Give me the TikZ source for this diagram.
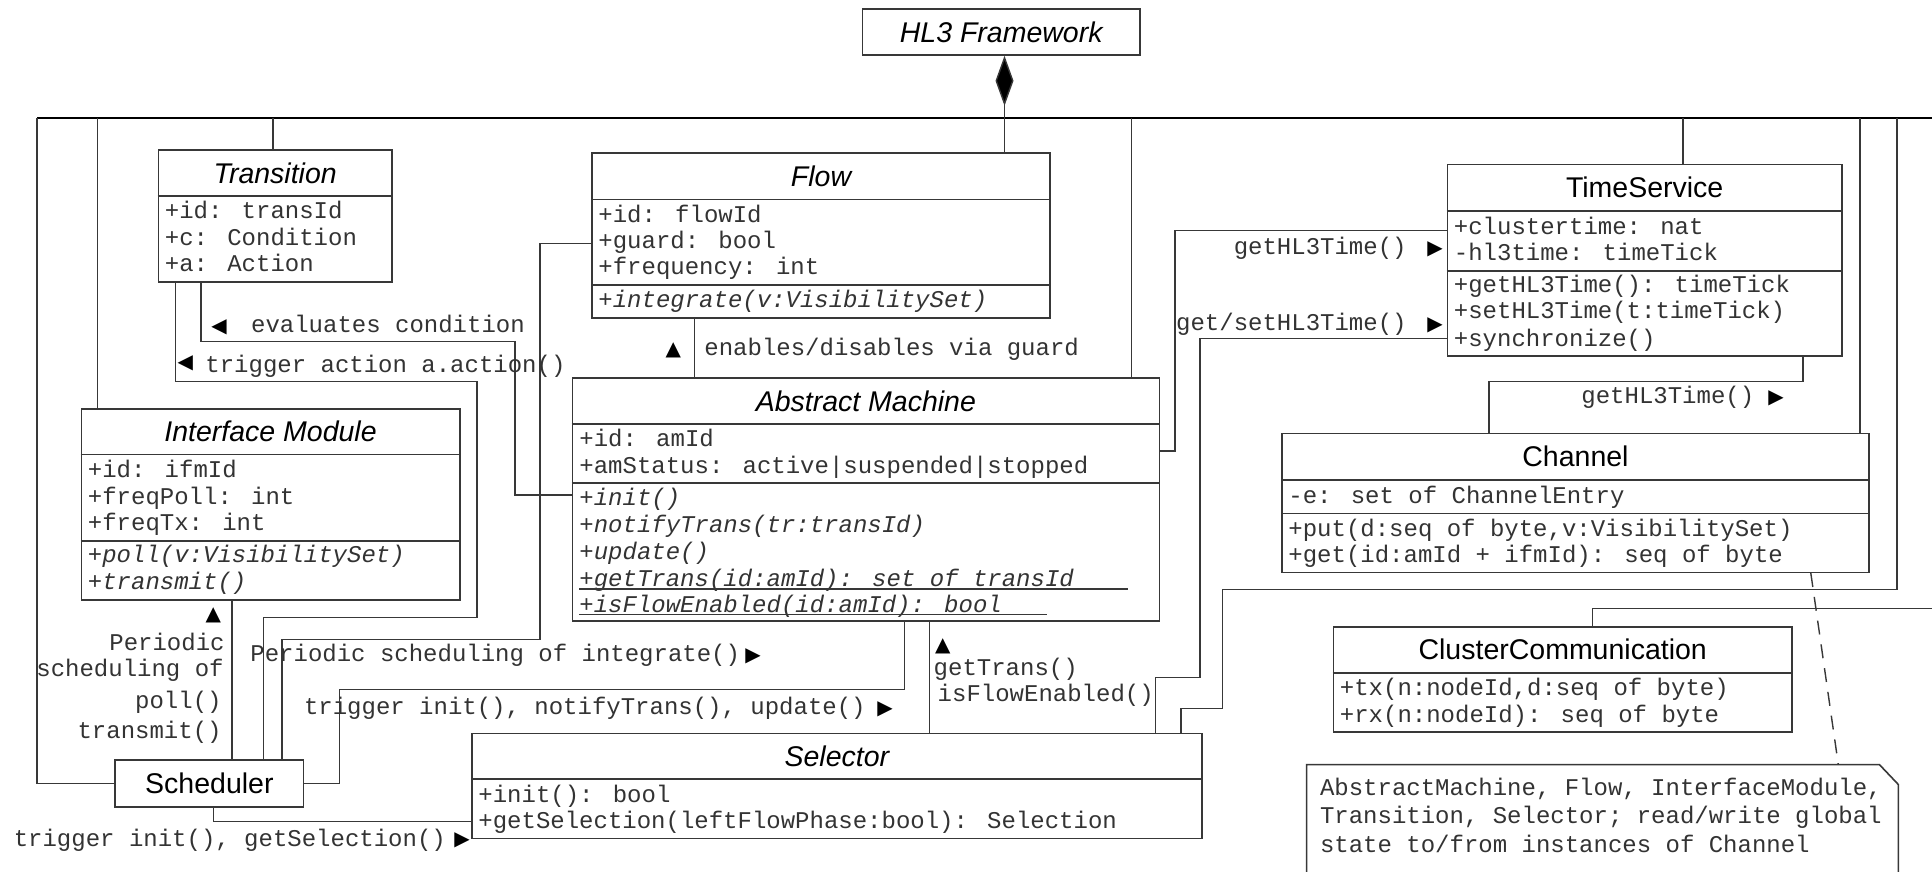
\documentclass[tikz,border=0pt]{standalone}
\usepackage{fontspec}
\setmainfont{Liberation Sans}
\newfontfamily\monof{Liberation Mono}
\newfontfamily\symf{DejaVu Sans}
\usetikzlibrary{arrows.meta,fit}
\definecolor{ink}{gray}{0.22}
\definecolor{txt}{gray}{0.2}
\begin{document}
\begin{tikzpicture}[x=0.5pt,y=-0.5pt,
  box/.style={draw=ink, line width=0.8pt, inner sep=0pt},
  sepl/.style={draw=ink, line width=0.8pt},
  wire/.style={draw=ink, line width=0.7pt},
  bus/.style={draw=black, line width=0.9pt},
  hdr/.style={font=\fontsize{14.25}{16}\selectfont, inner sep=0pt, text height=10.2pt, text depth=0pt},
  hdri/.style={hdr, font=\fontsize{14.25}{16}\selectfont\itshape},
  mt/.style={font=\monof\fontsize{12}{13}\selectfont, inner sep=0pt, anchor=west, text height=7.5pt, text depth=2pt, text=txt},
  mti/.style={mt, font=\monof\itshape\fontsize{12}{13}\selectfont},
  mk/.style={font=\symf\fontsize{10}{11}\selectfont, inner sep=0pt},
]
\useasboundingbox (0,0) rectangle (1932,872);
\fill[white] (0,0) rectangle (1932,872);

% ---------- class boxes ----------
\node[box, fit={(862.5,9) (1140,55)}] (hl3) {};
\node[hdri] (hl3-h) at (hl3) {HL3 Framework};

\node[box, fit={(158.5,149.7) (392,281.7)}] (trans) {};
\draw[sepl] (trans.west |- 0,196) -- (trans.east |- 0,196);
\node[hdri] (trans-h) at (trans.north |- 0,173) {Transition};
\node[mt] (trans-a1) at (164.5,213) {+id: transId};
\node[mt] (trans-a2) at (164.5,239.5) {+c: Condition};
\node[mt] (trans-a3) at (164.5,266) {+a: Action};

\node[box, fit={(592,153) (1050,317.7)}] (flow) {};
\draw[sepl] (flow.west |- 0,199.3) -- (flow.east |- 0,199.3);
\draw[sepl] (flow.west |- 0,285) -- (flow.east |- 0,285);
\node[hdri] (flow-h) at (flow.north |- 0,176.2) {Flow};
\node[mt] (flow-a1) at (598,216.7) {+id: flowId};
\node[mt] (flow-a2) at (598,242.7) {+guard: bool};
\node[mt] (flow-a3) at (598,269.3) {+frequency: int};
\node[mti] (flow-o1) at (598,301.7) {+integrate(v:VisibilitySet)};

\node[box, fit={(572.3,377.7) (1159.4,621)}] (am) {};
\draw[sepl] (am.west |- 0,424) -- (am.east |- 0,424);
\draw[sepl] (am.west |- 0,482.7) -- (am.east |- 0,482.7);
\node[hdri] (am-h) at (am.north |- 0,400.9) {Abstract Machine};
\node[mt] (am-a1) at (579,440.7) {+id: amId};
\node[mt] (am-a2) at (579,468.3) {+amStatus: active|suspended|stopped};
\node[mti] (am-o1) at (579,500) {+init()};
\node[mti] (am-o2) at (579,526.7) {+notifyTrans(tr:transId)};
\node[mti] (am-o3) at (579,554) {+update()};
\node[mti] (am-o4) at (579,581) {+getTrans(id:amId): set of transId};
\node[mti] (am-o5) at (579,606.7) {+isFlowEnabled(id:amId): bool};
\draw[sepl, line width=0.6pt] ([yshift=-1.2pt]am-o4.base west) -- ([yshift=-1.2pt]am-o4.base west -| 1128.3,0);
\draw[sepl, line width=0.6pt] ([yshift=-1.2pt]am-o5.base west) -- ([yshift=-1.2pt]am-o5.base west -| 1046.7,0);

\node[box, fit={(81.3,409) (459.8,600)}] (im) {};
\draw[sepl] (im.west |- 0,454.3) -- (im.east |- 0,454.3);
\draw[sepl] (im.west |- 0,540.7) -- (im.east |- 0,540.7);
\node[hdri] (im-h) at (im.north |- 0,431.7) {Interface Module};
\node[mt] (im-a1) at (87.5,472.3) {+id: ifmId};
\node[mt] (im-a2) at (87.5,499) {+freqPoll: int};
\node[mt] (im-a3) at (87.5,525) {+freqTx: int};
\node[mti] (im-o1) at (87.5,557.3) {+poll(v:VisibilitySet)};
\node[mti] (im-o2) at (87.5,584.3) {+transmit()};

\node[box, fit={(1447.5,164.3) (1841.8,356)}] (ts) {};
\draw[sepl] (ts.west |- 0,211) -- (ts.east |- 0,211);
\draw[sepl] (ts.west |- 0,270.7) -- (ts.east |- 0,270.7);
\node[hdr] (ts-h) at (ts.north |- 0,187.7) {TimeService};
\node[mt] (ts-a1) at (1453.5,228.7) {+clustertime: nat};
\node[mt] (ts-a2) at (1453.5,255) {-hl3time: timeTick};
\node[mt] (ts-o1) at (1453.5,287.3) {+getHL3Time(): timeTick};
\node[mt] (ts-o2) at (1453.5,313.3) {+setHL3Time(t:timeTick)};
\node[mt] (ts-o3) at (1453.5,340.7) {+synchronize()};

\node[box, fit={(1282.2,433.3) (1868.7,572.3)}] (chan) {};
\draw[sepl] (chan.west |- 0,480) -- (chan.east |- 0,480);
\draw[sepl] (chan.west |- 0,513.3) -- (chan.east |- 0,513.3);
\node[hdr] (chan-h) at (chan.north |- 0,456.7) {Channel};
\node[mt] (chan-a1) at (1288,497.7) {-e: set of ChannelEntry};
\node[mt] (chan-o1) at (1288,531) {+put(d:seq of byte,v:VisibilitySet)};
\node[mt] (chan-o2) at (1288,556.7) {+get(id:amId + ifmId): seq of byte};

\node[box, fit={(1333.5,626.7) (1791.9,731.7)}] (cc) {};
\draw[sepl] (cc.west |- 0,672.7) -- (cc.east |- 0,672.7);
\node[hdr] (cc-h) at (cc.north |- 0,649.7) {ClusterCommunication};
\node[mt] (cc-o1) at (1339.5,690) {+tx(n:nodeId,d:seq of byte)};
\node[mt] (cc-o2) at (1339.5,716.7) {+rx(n:nodeId): seq of byte};

\node[box, fit={(471.9,733.3) (1201.8,838.3)}] (sel) {};
\draw[sepl] (sel.west |- 0,779) -- (sel.east |- 0,779);
\node[hdri] (sel-h) at (sel.north |- 0,756.2) {Selector};
\node[mt] (sel-o1) at (478,796.7) {+init(): bool};
\node[mt] (sel-o2) at (478,822.7) {+getSelection(leftFlowPhase:bool): Selection};

\node[box, fit={(115.2,760) (303.6,806.7)}] (sched) {};
\node[hdr] (sched-h) at (sched) {Scheduler};

% ---------- note ----------
\node[inner sep=0pt, fit={(1307,765) (1898,872)}] (note) {};
\draw[box] (note.south west) -- (note.north west) -- ([xshift=-9.5pt]note.north east)
  -- ([yshift=-10pt]note.north east) -- (note.south east);
\node[mt] (note-1) at (1319.6,790) {AbstractMachine, Flow, InterfaceModule,};
\node[mt] (note-2) at (1319.6,818.3) {Transition, Selector; read/write global};
\node[mt] (note-3) at (1319.6,846.7) {state to/from instances of Channel};

% ---------- composition bus ----------
\coordinate (busL) at (37,117.7);
\coordinate (busR) at (1932,117.7);
\coordinate (cx) at (1004.5,0);
\draw[bus] (busL) -- (busR);
\draw[wire, -{Diamond[length=25pt,width=9pt,fill=black]}] (flow.north -| cx) -- (hl3.south -| cx);
\draw[wire] (busL) |- (sched.west);
\draw[wire] (97.3,117.7) -- (im.north -| 97.3,0);
\draw[wire] (273,117.7) -- (trans.north -| 273,0);
\draw[wire] (1131.3,117.7) -- (am.north -| 1131.3,0);
\draw[wire] (1683,117.7) -- (ts.north -| 1683,0);
\draw[wire] (1860,117.7) -- (chan.north -| 1860,0);
\draw[wire] (1897,117.7) -- (1897,589.3) -- (1222.3,589.3) -- (1222.3,708.3) -- (1181,708.3) -- (sel.north -| 1181,0);
\draw[wire] (1932,608.3) -- (1592.4,608.3) -- (cc.north -| 1592.4,0);

% ---------- associations ----------
\draw[wire] (sched.north -| 282,0) -- (282,639.3) -- (540,639.3) -- (540,243.7) -- (flow.west |- 0,243.7);
\draw[wire] (sched.north -| 263.4,0) -- (263.4,617.7) -- (476.8,617.7) -- (476.8,381.7) -- (175.4,381.7) -- (trans.south -| 175.4,0);
\draw[wire] (trans.south -| 201,0) -- (201,341.7) -- (515,341.7) -- (515,495) -- (am.west |- 0,495);
\draw[wire] (sched.north -| 232,0) -- (im.south -| 232,0);
\draw[wire] (sched.east) -- (339.3,783.35) -- (339.3,689.3) -- (904.5,689.3) -- (am.south -| 904.5,0);
\draw[wire] (sched.south -| 213.4,0) -- (213.4,821.7) -- (sel.west |- 0,821.7);
\draw[wire] (flow.south -| 694.2,0) -- (am.north -| 694.2,0);
\draw[wire] (am.south -| 929.5,0) -- (sel.north -| 929.5,0);
\draw[wire] (am.east |- 0,451) -- (1175,451) -- (1175,230.7) -- (ts.west |- 0,230.7);
\draw[wire] (ts.west |- 0,338.3) -- (1200,338.3) -- (1200,677.3) -- (1155.7,677.3) -- (sel.north -| 1155.7,0);
\draw[wire] (ts.south -| 1802.9,0) -- (1802.9,381.7) -- (1489,381.7) -- (chan.north -| 1489,0);
\draw[wire, dash pattern=on 7pt off 5pt] (chan.south -| 1810.8,0) -- (note.north -| 1838.3,0);

% ---------- association labels ----------
\node[mk] (m-eval) at (219,327) {◀};
\node[mt] (l-eval) at (250.7,327) {evaluates condition};
\node[mk] (m-act) at (185.3,363.3) {◀};
\node[mt] (l-act) at (205,366.7) {trigger action a.action()};
\node[mk] (m-guard) at (673.2,350) {▲};
\node[mt] (l-guard) at (704,350) {enables/disables via guard};
\node[mt, anchor=east] (l-time1) at (1407,249.3) {getHL3Time()};
\node[mk] (m-time1) at (1435,249) {▶};
\node[mt, anchor=east] (l-time2) at (1407,325) {get/setHL3Time()};
\node[mk] (m-time2) at (1435,325) {▶};
\node[mt] (l-time3) at (1581,398.3) {getHL3Time()};
\node[mk] (m-time3) at (1776,398) {▶};
\node[mk] (m-get) at (942.7,646) {▲};
\node[mt] (l-get1) at (933.3,670) {getTrans()};
\node[mt] (l-get2) at (937.3,696) {isFlowEnabled()};
\node[mt] (l-int) at (250,656) {Periodic scheduling of integrate()};
\node[mk] (m-int) at (753,656) {▶};
\node[mt] (l-init) at (303.6,709.3) {trigger init(), notifyTrans(), update()};
\node[mk] (m-init) at (885,709.3) {▶};
\node[mt] (l-sel) at (13.4,840.7) {trigger init(), getSelection()};
\node[mk] (m-sel) at (462,840.7) {▶};
\node[mk] (m-poll) at (213.4,615) {▲};
\node[mt, anchor=east] (l-poll1) at (225,645) {Periodic};
\node[mt, anchor=east] (l-poll2) at (224,670.7) {scheduling of};
\node[mt, anchor=east] (l-poll3) at (222,703) {poll()};
\node[mt, anchor=east] (l-poll4) at (222,733.3) {transmit()};
\end{tikzpicture}
\end{document}
